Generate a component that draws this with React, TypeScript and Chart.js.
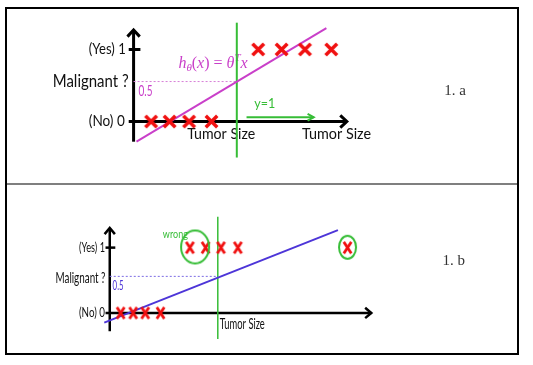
import React, { useEffect, useRef } from "react";
import { Chart, registerables } from "chart.js";
Chart.register(...registerables);

type Pt = { x: number; y: number };

// ---------- Panel 1.a data ----------
const aBenignSizes = [0.9, 1.85, 2.85, 4.0];
const aMalignantSizes = [6.4, 7.6, 8.8, 10.15];
const aHypothesis: Pt[] = [{ x: 0.15, y: -0.28 }, { x: 9.9, y: 1.295 }];
const aThreshold = 0.555;
const aDecisionSize = 5.3;
const aDecisionSpan = [-0.5, 1.372];
const aArrowY1: Pt[] = [{ x: 5.8, y: 0.06 }, { x: 9.25, y: 0.06 }];
const aYAxis: Pt[] = [{ x: 0, y: -0.28 }, { x: 0, y: 1.27 }];
const aXAxis: Pt[] = [{ x: -0.25, y: 0 }, { x: 10.95, y: 0 }];
const aTickYes: Pt[] = [{ x: -0.25, y: 1 }, { x: 0.35, y: 1 }];
const aRangeX = [-6.5, 20.15];
const aRangeY = [-0.7564, 1.5897];

// ---------- Panel 1.b data ----------
const bBenignSizes = [0.57, 1.22, 1.85, 2.65];
const bMalignantSizes = [4.18, 5.0, 5.8, 6.68, 12.4];
const bHypothesis: Pt[] = [{ x: -0.285, y: -0.148 }, { x: 11.9, y: 1.268 }];
const bThreshold = 0.56;
const bDecisionSize = 5.635;
const bDecisionSpan = [-0.4, 1.471];
const bWrongBig: Pt[] = [{ x: 4.45, y: 1.01 }];
const bWrongSmall: Pt[] = [{ x: 12.4, y: 1.005 }];
const bYAxis: Pt[] = [{ x: 0, y: -0.28 }, { x: 0, y: 1.3 }];
const bXAxis: Pt[] = [{ x: -0.22, y: 0 }, { x: 13.64, y: 0 }];
const bTickYes: Pt[] = [{ x: -0.22, y: 1 }, { x: 0.29, y: 1 }];
const bRangeX = [-5.15, 21.5];
const bRangeY = [-0.6285, 1.821];

const RED = "#f01010";
const MAGENTA = "#c93fc9";
const GREEN = "#36bd36";
const BLUE = "#4d35d8";

type Part = { t: string; font: string; dy?: number };
type Label = { parts: Part[]; x: number; y: number; align: "left" | "right"; color: string; maxW: number };

const lab = (t: string, x: number, y: number, align: "left" | "right", color: string, font: string, maxW: number): Label => ({
  parts: [{ t, font }], x, y, align, color, maxW,
});

const aLabels: Label[] = [
  lab("(Yes) 1", -0.4, 1, "right", "#111", "15px Lato", 37),
  lab("(No) 0", -0.45, 0, "right", "#111", "15px Lato", 36),
  lab("Malignant ?", -0.25, 0.555, "right", "#111", "17px Lato", 76),
  lab("0.5", 0.25, 0.42, "left", MAGENTA, "15px Lato", 14),
  {
    parts: [
      { t: "h", font: "italic 16px 'Liberation Serif'" },
      { t: "θ", font: "italic 11px 'Liberation Serif'", dy: 4 },
      { t: "(", font: "16px 'Liberation Serif'" },
      { t: "x", font: "italic 16px 'Liberation Serif'" },
      { t: ") = ", font: "16px 'Liberation Serif'" },
      { t: "θ", font: "italic 16px 'Liberation Serif'" },
      { t: "T", font: "italic 11px 'Liberation Serif'", dy: -6 },
      { t: "x", font: "italic 16px 'Liberation Serif'" },
    ],
    x: 2.3, y: 0.795, align: "left", color: MAGENTA, maxW: 77,
  },
  lab("y=1", 6.2, 0.244, "left", GREEN, "14px Lato", 21),
  lab("Tumor Size", 2.75, -0.176, "left", "#111", "16px Lato", 68),
  lab("Tumor Size", 8.65, -0.176, "left", "#111", "16px Lato", 69),
  lab("1. a", 15.95, 0.423, "left", "#333", "15px 'Liberation Serif'", 23),
];

const bLabels: Label[] = [
  lab("(Yes) 1", -0.25, 1, "right", "#111", "14px Lato", 26),
  lab("(No) 0", -0.25, 0, "right", "#111", "14px Lato", 26),
  lab("Malignant ?", -0.22, 0.538, "right", "#111", "15px Lato", 50),
  lab("0.5", 0.15, 0.425, "left", BLUE, "14px Lato", 11),
  lab("wrong", 2.77, 1.211, "left", GREEN, "12px Lato", 25),
  lab("Tumor Size", 5.74, -0.167, "left", "#111", "15px Lato", 45),
  lab("1. b", 17.35, 0.798, "left", "#333", "15px 'Liberation Serif'", 23),
];

function makeX(w: number, h: number, lw: number, color: string) {
  const c = document.createElement("canvas");
  c.width = Math.ceil(w + lw + 2);
  c.height = Math.ceil(h + lw + 2);
  const g = c.getContext("2d")!;
  const ox = (c.width - w) / 2, oy = (c.height - h) / 2;
  g.strokeStyle = color;
  g.lineWidth = lw;
  g.beginPath();
  g.moveTo(ox, oy); g.lineTo(ox + w, oy + h);
  g.moveTo(ox + w, oy); g.lineTo(ox, oy + h);
  g.stroke();
  return c;
}

function makeRing(w: number, h: number, lw: number, color: string) {
  const c = document.createElement("canvas");
  c.width = Math.ceil(w + lw + 2);
  c.height = Math.ceil(h + lw + 2);
  const g = c.getContext("2d")!;
  g.strokeStyle = color;
  g.lineWidth = lw;
  g.beginPath();
  g.ellipse(c.width / 2, c.height / 2, w / 2, h / 2, 0, 0, Math.PI * 2);
  g.stroke();
  return c;
}

function labelPlugin(items: Label[]) {
  return {
    id: "textLabels",
    beforeDatasetsDraw(chart: any) {
      const ctx = chart.ctx as CanvasRenderingContext2D;
      const xs = chart.scales.x, ys = chart.scales.y;
      items.forEach((it) => {
        const px = xs.getPixelForValue(it.x);
        const py = ys.getPixelForValue(it.y);
        ctx.save();
        ctx.textBaseline = "middle";
        ctx.textAlign = "left";
        ctx.fillStyle = it.color;
        const widths = it.parts.map((p) => { ctx.font = p.font; return ctx.measureText(p.t).width; });
        const total = widths.reduce((s, v) => s + v, 0);
        const f = Math.min(1, it.maxW / total);
        const start = it.align === "right" ? px - total * f : px;
        ctx.translate(start, py);
        ctx.scale(f, 1);
        let cx = 0;
        it.parts.forEach((p, i) => {
          ctx.font = p.font;
          ctx.fillText(p.t, cx, p.dy || 0);
          cx += widths[i];
        });
        ctx.restore();
      });
    },
  };
}

const arrowPlugin = {
  id: "arrowHeads",
  afterDatasetsDraw(chart: any) {
    const ctx = chart.ctx as CanvasRenderingContext2D;
    chart.data.datasets.forEach((ds: any, i: number) => {
      if (!ds.arrowHead) return;
      const pts = chart.getDatasetMeta(i).data;
      const a = pts[pts.length - 2], b = pts[pts.length - 1];
      const ang = Math.atan2(b.y - a.y, b.x - a.x);
      const { len, spread, width, color } = ds.arrowHead;
      ctx.save();
      ctx.strokeStyle = color;
      ctx.lineWidth = width;
      ctx.lineJoin = "miter";
      ctx.beginPath();
      ctx.moveTo(b.x - len * Math.cos(ang - spread), b.y - len * Math.sin(ang - spread));
      ctx.lineTo(b.x, b.y);
      ctx.lineTo(b.x - len * Math.cos(ang + spread), b.y - len * Math.sin(ang + spread));
      ctx.stroke();
      ctx.restore();
    });
  },
};

const seg = (data: Pt[], color: string, width: number, order: number, extra: any = {}) => ({
  data, showLine: true, borderColor: color, borderWidth: width, pointRadius: 0, fill: false, order, ...extra,
});

function buildA() {
  const xImg = makeX(11.5, 11.5, 3.5, RED);
  return [
    seg(aYAxis, "#000", 3, 6, { arrowHead: { len: 9, spread: 0.75, width: 3, color: "#000" } }),
    seg(aXAxis, "#000", 3, 6, { arrowHead: { len: 9, spread: 0.75, width: 3, color: "#000" } }),
    seg(aTickYes, "#000", 3, 6),
    seg([{ x: 0, y: aThreshold }, { x: aDecisionSize, y: aThreshold }], "#d77fd7", 1, 5, { borderDash: [2, 2] }),
    seg([{ x: aDecisionSize, y: aDecisionSpan[0] }, { x: aDecisionSize, y: aDecisionSpan[1] }], GREEN, 2, 3),
    seg(aArrowY1, GREEN, 2, 3, { arrowHead: { len: 7, spread: 0.5, width: 2, color: GREEN } }),
    seg(aHypothesis, MAGENTA, 2, 2),
    { data: aBenignSizes.map((x) => ({ x, y: 0 })), pointStyle: xImg, pointRadius: 6, order: 1 },
    { data: aMalignantSizes.map((x) => ({ x, y: 1 })), pointStyle: xImg, pointRadius: 6, order: 1 },
  ];
}

function buildB() {
  const xImg = makeX(7.5, 11.5, 2.8, RED);
  return [
    seg(bYAxis, "#000", 2.5, 6, { arrowHead: { len: 8, spread: 0.7, width: 2.5, color: "#000" } }),
    seg(bXAxis, "#000", 2.5, 6, { arrowHead: { len: 8, spread: 0.7, width: 2.5, color: "#000" } }),
    seg(bTickYes, "#000", 2.5, 6),
    seg([{ x: 0, y: bThreshold }, { x: bDecisionSize, y: bThreshold }], "#7c6ce4", 1, 5, { borderDash: [2, 2] }),
    seg([{ x: bDecisionSize, y: bDecisionSpan[0] }, { x: bDecisionSize, y: bDecisionSpan[1] }], GREEN, 1.5, 3),
    seg(bHypothesis, BLUE, 2, 2),
    { data: bBenignSizes.map((x) => ({ x, y: 0 })), pointStyle: xImg, pointRadius: 6, order: 1 },
    { data: bMalignantSizes.map((x) => ({ x, y: 1 })), pointStyle: xImg, pointRadius: 6, order: 1 },
    { data: bWrongBig, pointStyle: makeRing(28, 33, 2, GREEN), pointRadius: 10, order: 0 },
    { data: bWrongSmall, pointStyle: makeRing(17, 23, 2, GREEN), pointRadius: 6, order: 0 },
  ];
}

function makeChart(canvas: HTMLCanvasElement, datasets: any[], rx: number[], ry: number[], labels: Label[]) {
  return new Chart(canvas, {
    type: "scatter",
    data: { datasets },
    options: {
      animation: false,
      responsive: false,
      events: [],
      layout: { padding: 0 },
      scales: {
        x: { type: "linear", display: false, min: rx[0], max: rx[1] },
        y: { type: "linear", display: false, min: ry[0], max: ry[1] },
      },
      plugins: { legend: { display: false }, tooltip: { enabled: false } },
    } as any,
    plugins: [labelPlugin(labels), arrowPlugin] as any,
  });
}

export default function App() {
  const refA = useRef<HTMLCanvasElement>(null);
  const refB = useRef<HTMLCanvasElement>(null);
  useEffect(() => {
    const ca = makeChart(refA.current!, buildA(), aRangeX, aRangeY, aLabels);
    const cb = makeChart(refB.current!, buildB(), bRangeX, bRangeY, bLabels);
    return () => { ca.destroy(); cb.destroy(); };
  }, []);
  return (
    <div style={{ position: "absolute", left: 0, top: 0, width: 533, height: 365, background: "#fff", overflow: "hidden" }}>
      <div style={{ position: "absolute", left: 5, top: 7, width: 514, height: 348, border: "2px solid #000", boxSizing: "border-box" }} />
      <div style={{ position: "absolute", left: 7, top: 183, width: 510, height: 2, background: "#7f7f7f" }} />
      <canvas ref={refA} width={533} height={183} style={{ position: "absolute", left: 0, top: 0, width: 533, height: 183 }} />
      <canvas ref={refB} width={533} height={182} style={{ position: "absolute", left: 0, top: 183, width: 533, height: 182 }} />
    </div>
  );
}
